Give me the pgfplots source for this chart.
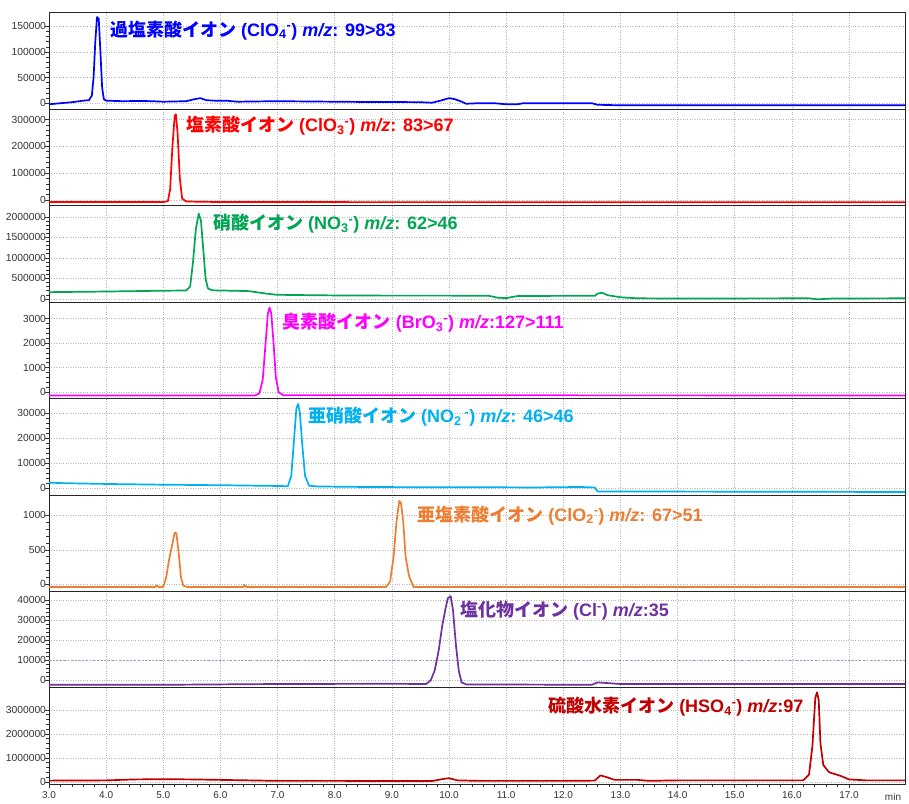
\documentclass[border=0pt]{standalone}
\usepackage{fontspec}
\setmainfont{Liberation Sans}
\newfontfamily\jp{Noto Sans CJK JP}
\usepackage{pgfplots}
\pgfplotsset{compat=1.18}
\usepgfplotslibrary{groupplots}
\definecolor{cBlue}{RGB}{0,0,255}
\definecolor{cRed}{RGB}{255,0,0}
\definecolor{cGreen}{RGB}{0,166,81}
\definecolor{cMag}{RGB}{255,0,255}
\definecolor{cCyan}{RGB}{0,176,240}
\definecolor{cOrange}{RGB}{237,125,49}
\definecolor{cPurple}{RGB}{112,48,160}
\definecolor{cDRed}{RGB}{192,0,0}
\newcommand{\lbl}[1]{\fontsize{18}{20}\selectfont\bfseries #1}
\begin{document}
\begin{tikzpicture}
\begin{groupplot}[
  group style={group size=1 by 8, vertical sep=0pt, xticklabels at=edge bottom},
  width=856pt, height=96.4pt, scale only axis,
  xmin=3, xmax=17.98,
  xtick={3,4,...,17},
  grid=major, major grid style={dotted, black!28, line width=0.6pt},
  axis line style={black!85, line width=1pt},
  tick align=outside,
  ytick pos=left, xtick pos=bottom,
  major tick length=4pt, minor tick length=2.5pt,
  tick style={black!80, line width=0.6pt},
  scaled ticks=false,
  minor y tick num=4,
  xmajorticks=false,
  yticklabel style={font=\fontsize{10.3}{11}\selectfont, text=black!80, xshift=4.5pt},
  /pgf/number format/fixed, /pgf/number format/1000 sep={}, /pgf/number format/assume math mode=true,
  every axis plot/.append style={line width=1.7pt, line join=round},
]
% 1 perchlorate
\nextgroupplot[ymin=-12000, ymax=176000, ytick={0,50000,100000,150000}]
\addplot[cBlue] coordinates {(3.0,-2000)(3.2,0)(3.4,2000)(3.6,5000)(3.7,6000)(3.75,15000)(3.78,50000)(3.81,120000)(3.84,168000)(3.87,165000)(3.9,100000)(3.93,30000)(3.96,8000)(4.0,5000)(4.3,4000)(4.6,4500)(4.8,4000)(5.0,3000)(5.2,3500)(5.4,4000)(5.55,8000)(5.65,10000)(5.75,6000)(5.9,5000)(6.1,5000)(6.3,3000)(6.6,3500)(7.0,4000)(7.5,3500)(8.0,3000)(8.5,2500)(9.0,2500)(9.5,2000)(9.7,1000)(9.85,5000)(10.0,10000)(10.1,8000)(10.2,4000)(10.3,-1000)(10.5,0)(10.8,0)(11.0,-2000)(11.2,-2000)(11.3,0)(11.6,0)(12.0,0)(12.5,0)(12.6,-3000)(13.0,-4000)(14,-4000)(17.98,-4000)};
\node[anchor=west, text=cBlue, inner sep=0pt] at (rel axis cs:0.0713,0.82) {\lbl{{\jp 過塩素酸イオン} (ClO\textsubscript{4}\textsuperscript{-}) \textit{m/z}: 99>83}};
% 2 chlorate
\nextgroupplot[ymin=-22000, ymax=338000, ytick={0,100000,200000,300000}]
\addplot[cRed] coordinates {(3.0,-8000)(5.0,-8000)(5.08,-5000)(5.12,40000)(5.16,200000)(5.2,315000)(5.22,320000)(5.25,250000)(5.29,80000)(5.33,5000)(5.4,-6000)(6.0,-8000)(17.98,-9000)};
\node[anchor=west, text=cRed, inner sep=0pt] at (rel axis cs:0.160,0.83) {\lbl{{\jp 塩素酸イオン} (ClO\textsubscript{3}\textsuperscript{-}) \textit{m/z}: 83>67}};
% 3 nitrate
\nextgroupplot[ymin=-80000, ymax=2270000, ytick={0,500000,1000000,1500000,2000000}]
\addplot[cGreen] coordinates {(3.0,165000)(4.0,180000)(5.0,200000)(5.4,205000)(5.47,300000)(5.52,900000)(5.57,1700000)(5.62,2080000)(5.66,1900000)(5.7,1200000)(5.74,500000)(5.78,260000)(5.85,210000)(6.2,200000)(6.5,190000)(6.8,130000)(7.0,100000)(8,85000)(9,80000)(10,80000)(10.7,75000)(10.85,30000)(11.0,20000)(11.2,70000)(12.0,75000)(12.55,75000)(12.6,130000)(12.68,150000)(12.78,90000)(13.0,40000)(13.3,15000)(14,10000)(16.3,15000)(16.45,-10000)(16.7,10000)(17.98,15000)};
\node[anchor=west, text=cGreen, inner sep=0pt] at (rel axis cs:0.1916,0.81) {\lbl{{\jp 硝酸イオン} (NO\textsubscript{3}\textsuperscript{-}) \textit{m/z}: 62>46}};
% 4 bromate
\nextgroupplot[ymin=-257, ymax=3665, ytick={0,1000,2000,3000}]
\addplot[cMag] coordinates {(3.0,-130)(6.6,-130)(6.68,-50)(6.74,500)(6.79,2000)(6.83,3200)(6.86,3450)(6.89,3200)(6.93,2000)(6.97,600)(7.02,0)(7.1,-120)(17.98,-130)};
\node[anchor=west, text=cMag, inner sep=0pt] at (rel axis cs:0.273,0.79) {\lbl{{\jp 臭素酸イオン} (BrO\textsubscript{3}\textsuperscript{-}) \textit{m/z}:127>111}};
% 5 nitrite
\nextgroupplot[ymin=-2700, ymax=35700, ytick={0,10000,20000,30000}]
\addplot[cCyan] coordinates {(3.0,2200)(3.3,2000)(4,1700)(5,1400)(6,1200)(7.0,900)(7.18,800)(7.24,5000)(7.29,20000)(7.33,32000)(7.36,33600)(7.39,30000)(7.43,18000)(7.48,5000)(7.55,1000)(7.7,700)(8.5,500)(9.5,400)(10.5,400)(11.5,300)(12.3,500)(12.55,300)(12.6,-1300)(13,-1300)(17.98,-1500)};
\node[anchor=west, text=cCyan, inner sep=0pt] at (rel axis cs:0.3026,0.81) {\lbl{{\jp 亜硝酸イオン} (NO\textsubscript{2}\,\textsuperscript{-}) \textit{m/z}: 46>46}};
% 6 chlorite
\nextgroupplot[ymin=-104, ymax=1296, ytick={0,500,1000}]
\addplot[cOrange] coordinates {(3.0,-40)(4.85,-40)(4.88,-20)(4.92,-40)(5.0,-40)(5.05,100)(5.1,350)(5.15,550)(5.2,750)(5.23,740)(5.27,450)(5.31,100)(5.35,-20)(5.42,-40)(6.4,-40)(6.42,-10)(6.45,-40)(8.9,-40)(8.97,40)(9.03,400)(9.08,900)(9.13,1210)(9.16,1180)(9.2,900)(9.24,400)(9.3,120)(9.38,-40)(17.98,-40)};
\node[anchor=west, text=cOrange, inner sep=0pt] at (rel axis cs:0.43,0.79) {\lbl{{\jp 亜塩素酸イオン} (ClO\textsubscript{2}\textsuperscript{-}) \textit{m/z}: 67>51}};
% 7 chloride
\nextgroupplot[ymin=-3700, ymax=44400, ytick={0,10000,20000,30000,40000}]
\addplot[cPurple!55, dotted, line width=1.2pt] coordinates {(3,10000)(17.98,10000)};
\addplot[cPurple] coordinates {(3.0,-2200)(5,-2200)(7,-1800)(9,-1700)(9.6,-1800)(9.68,0)(9.75,5000)(9.82,15000)(9.88,27000)(9.94,36000)(9.98,41000)(10.03,42000)(10.07,35000)(10.12,18000)(10.17,5000)(10.22,-1000)(10.3,-2000)(12.5,-2200)(12.6,-1000)(12.7,-1200)(13,-1800)(17.98,-1800)};
\node[anchor=west, text=cPurple, inner sep=0pt] at (rel axis cs:0.480,0.80) {\lbl{{\jp 塩化物イオン} (Cl\textsuperscript{-}) \textit{m/z}:35}};
% 8 hydrogen sulfate
\nextgroupplot[ymin=-100000, ymax=3920000, ytick={0,1000000,2000000,3000000},
  xmajorticks=true, minor x tick num=4,
  xticklabel style={font=\fontsize{10}{11}\selectfont, text=black!80, /pgf/number format/fixed zerofill, /pgf/number format/precision=1},
  xlabel={min}, xlabel style={at={(rel axis cs:0.986,0)}, anchor=north, inner sep=0pt, yshift=-8.5pt, font=\fontsize{10}{11}\selectfont, text=black!80}]
\addplot[cDRed] coordinates {(3.0,50000)(4.0,60000)(4.5,100000)(5.0,110000)(5.5,100000)(6.0,80000)(6.5,60000)(7.0,40000)(8,40000)(9,30000)(9.7,30000)(9.9,120000)(10.0,150000)(10.15,60000)(10.5,40000)(12.0,40000)(12.55,50000)(12.65,270000)(12.75,200000)(12.9,80000)(13.3,80000)(13.5,40000)(14,60000)(15,60000)(16.2,60000)(16.3,300000)(16.36,1500000)(16.41,3500000)(16.44,3730000)(16.47,3400000)(16.5,1600000)(16.55,700000)(16.65,400000)(16.85,250000)(17.0,100000)(17.3,60000)(17.98,60000)};
\node[anchor=west, text=cDRed, inner sep=0pt] at (rel axis cs:0.583,0.80) {\lbl{{\jp 硫酸水素イオン} (HSO\textsubscript{4}\textsuperscript{-}) \textit{m/z}:97}};
\end{groupplot}
\path ([xshift=-49pt,yshift=13pt]group c1r1.north west) rectangle ([xshift=4pt,yshift=-19pt]group c1r8.south east);
\end{tikzpicture}
\end{document}
